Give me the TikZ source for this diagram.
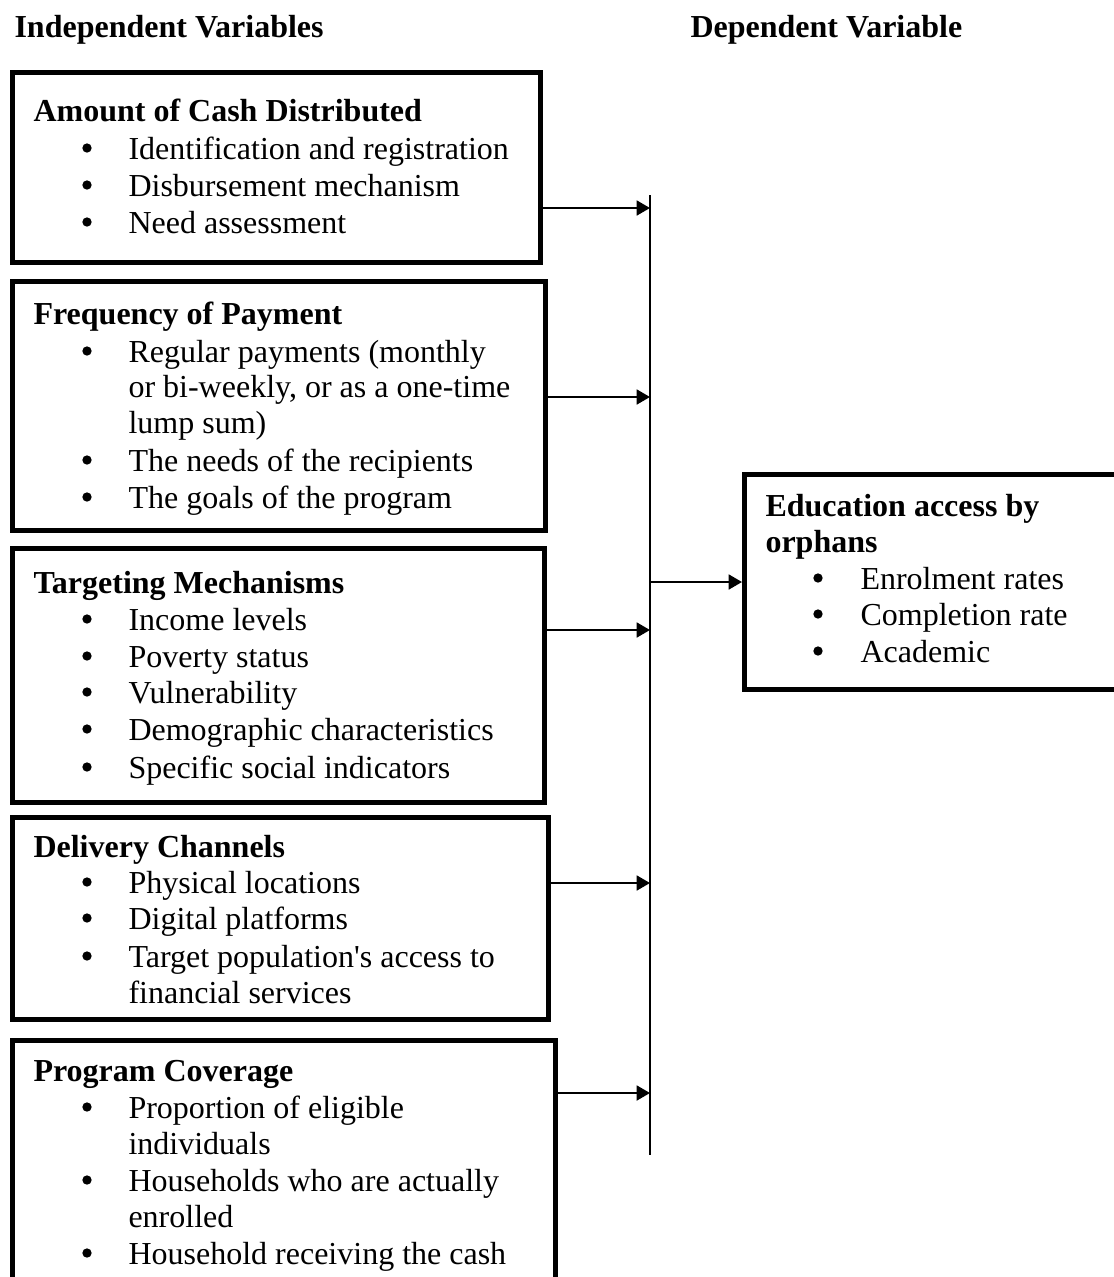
\documentclass[tikz,border=0pt]{standalone}
\usepackage{fontspec}
\setmainfont{Liberation Serif}
\usetikzlibrary{arrows.meta}
\begin{document}
\begin{tikzpicture}[x=0.375pt,y=-0.375pt,
  font=\fontsize{12}{13.8}\selectfont,
  box/.style={draw, line width=1.8pt, anchor=north west, inner sep=0pt},
  hd/.style={anchor=base west, inner sep=0pt, font=\fontsize{12}{13.8}\selectfont\bfseries},
  itm/.style={anchor=base west, inner sep=0pt},
  bul/.style={circle, fill, inner sep=0pt, minimum size=3.5pt},
  link/.style={line width=0.75pt, -{Triangle[length=5pt,width=5.6pt]}}]
\useasboundingbox (0,0) rectangle (1114,1277);
\clip (0,0) rectangle (1114,1277);

% headers
\node[hd] (ivh) at (14,37) {Independent Variables};
\node[hd] (dvh) at (690,37) {Dependent Variable};

% boxes
\node[box, minimum width=198pt, minimum height=71.25pt] (b1) at (10,70) {};
\node[box, minimum width=199.875pt, minimum height=93.375pt] (b2) at (10,279) {};
\node[box, minimum width=199.5pt, minimum height=95.25pt] (b3) at (10,546) {};
\node[box, minimum width=201pt, minimum height=75.75pt] (b4) at (10,815) {};
\node[box, minimum width=203.625pt, minimum height=97.5pt] (b5) at (10,1038) {};
\node[box, minimum width=142.5pt, minimum height=80.6pt] (dv) at (742,472) {};

% box 1
\node[hd] (h1) at (33,121) {Amount of Cash Distributed};
\foreach \y/\t [count=\i] in {159/Identification and registration,196/Disbursement mechanism,233/Need assessment}{
  \node[bul] (b1d\i) at (87,\y-11) {};
  \node[itm] (b1t\i) at (128,\y) {\t};
}

% box 2
\node[hd] (h2) at (33,324) {Frequency of Payment};
\node[bul] (b2d1) at (87,351) {};
\node[itm] (b2t1) at (128,362) {Regular payments (monthly};
\node[itm] (b2t2) at (128,397) {or bi-weekly, or as a one-time};
\node[itm] (b2t3) at (128,433) {lump sum)};
\node[bul] (b2d2) at (87,460) {};
\node[itm] (b2t4) at (128,471) {The needs of the recipients};
\node[bul] (b2d3) at (87,497) {};
\node[itm] (b2t5) at (128,508) {The goals of the program};

% box 3
\node[hd] (h3) at (33,593) {Targeting Mechanisms};
\foreach \y/\t [count=\i] in {630/Income levels,667/Poverty status,703/Vulnerability,740/Demographic characteristics,778/Specific social indicators}{
  \node[bul] (b3d\i) at (87,\y-11) {};
  \node[itm] (b3t\i) at (128,\y) {\t};
}

% box 4
\node[hd] (h4) at (33,857) {Delivery Channels};
\node[bul] (b4d1) at (87,882) {};
\node[itm] (b4t1) at (128,893) {Physical locations};
\node[bul] (b4d2) at (87,918) {};
\node[itm] (b4t2) at (128,929) {Digital platforms};
\node[bul] (b4d3) at (87,956) {};
\node[itm] (b4t3) at (128,967) {Target population\textquotesingle s access to};
\node[itm] (b4t4) at (128,1003) {financial services};

% box 5
\node[hd] (h5) at (33,1081) {Program Coverage};
\node[bul] (b5d1) at (87,1107) {};
\node[itm] (b5t1) at (128,1118) {Proportion of eligible};
\node[itm] (b5t2) at (128,1154) {individuals};
\node[bul] (b5d2) at (87,1180) {};
\node[itm] (b5t3) at (128,1191) {Households who are actually};
\node[itm] (b5t4) at (128,1227) {enrolled};
\node[bul] (b5d3) at (87,1253) {};
\node[itm] (b5t5) at (128,1264) {Household receiving the cash};

% dependent box
\node[hd] (hd1) at (765,516) {Education access by};
\node[hd] (hd2) at (765,552) {orphans};
\foreach \y/\t [count=\i] in {589/Enrolment rates,625/Completion rate,662/Academic}{
  \node[bul] (dvd\i) at (818,\y-11) {};
  \node[itm] (dvt\i) at (860,\y) {\t};
}

% vertical collector line
\coordinate (vtop) at (650,195);
\coordinate (vbot) at (650,1155);
\draw[line width=0.6pt] (vtop) -- (vbot);
\coordinate (v1) at (650,208);
\coordinate (v2) at (650,397);
\coordinate (v3) at (650,630);
\coordinate (v4) at (650,883);
\coordinate (v5) at (650,1093);
\coordinate (vo) at (650,582);

\draw[link] (b1.east |- v1) -- (v1);
\draw[link] (b2.east |- v2) -- (v2);
\draw[link] (b3.east |- v3) -- (v3);
\draw[link] (b4.east |- v4) -- (v4);
\draw[link] (b5.east |- v5) -- (v5);
\draw[link] (vo) -- (dv.west |- vo);
\end{tikzpicture}
\end{document}
